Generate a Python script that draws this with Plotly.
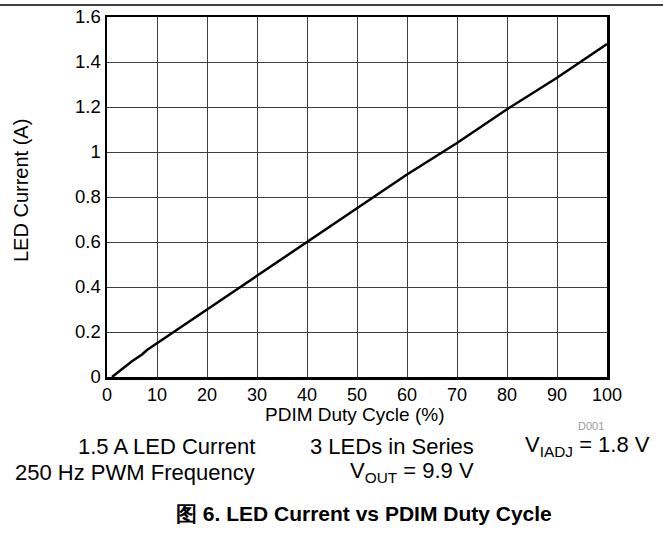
import plotly.graph_objects as go

duty_cycle = [1, 5, 7, 8, 10, 20, 30, 40, 50, 60, 70, 80, 90, 100]
led_current = [0.0, 0.07, 0.1, 0.12, 0.15, 0.3, 0.45, 0.6, 0.75, 0.9, 1.04, 1.19, 1.33, 1.48]

x_ticks = [0, 10, 20, 30, 40, 50, 60, 70, 80, 90, 100]
y_ticks = [0, 0.2, 0.4, 0.6, 0.8, 1, 1.2, 1.4, 1.6]
y_tick_labels = ["0", "0.2", "0.4", "0.6", "0.8", "1", "1.2", "1.4", "1.6"]

FONT = "Liberation Sans, Arial, sans-serif"

FIG_W, FIG_H = 663, 538
L, T, W, H = 107, 17, 500, 360

fig = go.Figure()
fig.add_trace(go.Scatter(x=duty_cycle, y=led_current, mode="lines",
                         line=dict(color="black", width=2.5), showlegend=False,
                         hoverinfo="skip"))

def px(x):
    return (x - L) / W
def py(y):
    return (T + H - y) / H

fig.update_layout(
    width=FIG_W, height=FIG_H,
    margin=dict(l=L, r=FIG_W - L - W, t=T, b=FIG_H - T - H, pad=0, autoexpand=False),
    paper_bgcolor="white", plot_bgcolor="white",
    font=dict(family=FONT, size=18, color="black"),
    xaxis=dict(range=[0, 100], tickvals=x_ticks, ticks="", showgrid=True,
               gridcolor="#404040", gridwidth=1, showline=True, linecolor="black",
               linewidth=2.5, mirror=True, zeroline=False, fixedrange=True,
               automargin=False, tickfont=dict(size=18)),
    yaxis=dict(range=[0, 1.6], tickvals=y_ticks, ticktext=y_tick_labels, ticks="",
               showgrid=True, gridcolor="#404040", gridwidth=1, showline=True,
               linecolor="black", linewidth=2.5, mirror=True, zeroline=False,
               fixedrange=True, automargin=False, tickfont=dict(size=18.5)),
)

fig.add_shape(type="line", xref="paper", yref="paper",
              x0=px(0), x1=px(663), y0=py(5), y1=py(5),
              line=dict(color="black", width=1.5))

def add(text, x, y, xanchor="right", size=22, color="black", angle=0):
    fig.add_annotation(text=text, x=px(x), y=py(y), xref="paper", yref="paper",
                       xanchor=xanchor, yanchor="middle", showarrow=False,
                       textangle=angle, font=dict(family=FONT, size=size, color=color))

add("PDIM Duty Cycle (%)", 354, 414, xanchor="center", size=19)
add("LED Current (A)", 21, 191, xanchor="center", size=20, angle=-90)
add("D001", 606, 426, size=11, color="#999999")
add("1.5 A LED Current", 257, 446)
add("3 LEDs in Series", 476, 446)
add("V<sub>IADJ</sub> = 1.8 V", 652, 446)
add("250 Hz PWM Frequency", 257, 472)
add("V<sub>OUT</sub> = 9.9 V", 476, 472)
add("<b>图 6. LED Current vs PDIM Duty Cycle</b>", 364, 513, xanchor="center", size=21)

fig.write_html("out.html", config={"displayModeBar": False, "staticPlot": True},
               post_script="document.body.style.margin='0';document.body.style.overflow='hidden';")
